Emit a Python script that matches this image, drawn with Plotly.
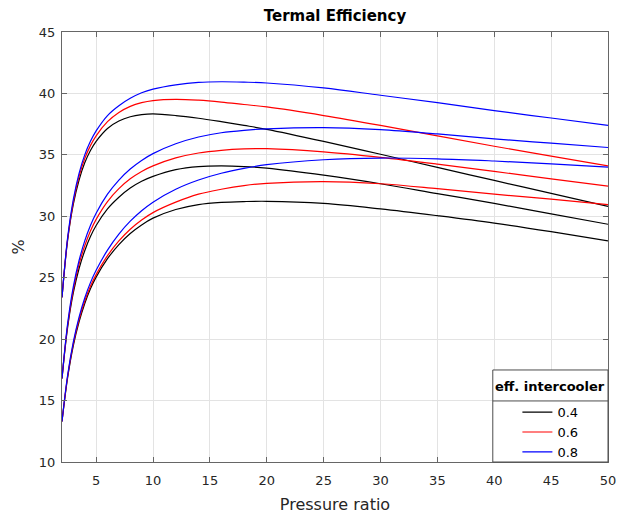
import plotly.graph_objects as go

# Pressure ratio sample points
pr = [2, 2.5, 3, 3.5, 4, 4.5, 5, 6, 7, 8, 9, 10, 12, 14, 16, 18, 20, 25, 30, 35, 40, 45, 50]

# Top group (highest efficiency)
top_black = [23.4, 28.1, 31.0, 32.95, 34.35, 35.35, 36.1, 37.15, 37.75, 38.1, 38.27, 38.33, 38.2, 37.98, 37.7, 37.4, 37.08, 36.1, 35.05, 33.98, 32.92, 31.86, 30.8]
top_red   = [23.4, 28.2, 31.2, 33.25, 34.7, 35.75, 36.55, 37.7, 38.45, 38.95, 39.25, 39.42, 39.52, 39.45, 39.3, 39.1, 38.9, 38.2, 37.4, 36.55, 35.7, 34.9, 34.1]
top_blue  = [23.4, 28.3, 31.4, 33.5, 35.0, 36.1, 36.95, 38.2, 39.0, 39.6, 40.05, 40.35, 40.7, 40.9, 40.95, 40.92, 40.85, 40.45, 39.85, 39.25, 38.6, 38.0, 37.4]

# Middle group
mid_black = [16.8, 21.0, 23.8, 25.75, 27.2, 28.35, 29.25, 30.6, 31.55, 32.3, 32.85, 33.25, 33.8, 34.05, 34.1, 34.05, 33.92, 33.35, 32.65, 31.85, 31.05, 30.2, 29.35]
mid_red   = [16.8, 21.15, 24.05, 26.1, 27.6, 28.8, 29.75, 31.2, 32.25, 33.05, 33.65, 34.1, 34.75, 35.15, 35.37, 35.48, 35.5, 35.25, 34.8, 34.25, 33.65, 33.05, 32.45]
mid_blue  = [16.8, 21.3, 24.3, 26.4, 28.0, 29.25, 30.25, 31.8, 32.95, 33.85, 34.55, 35.1, 35.9, 36.45, 36.8, 37.0, 37.12, 37.22, 37.05, 36.7, 36.3, 35.95, 35.6]

# Bottom group
bot_black = [13.3, 16.9, 19.5, 21.4, 22.9, 24.1, 25.05, 26.55, 27.7, 28.6, 29.3, 29.85, 30.55, 30.95, 31.13, 31.2, 31.22, 31.05, 30.6, 30.05, 29.45, 28.75, 28.0]
bot_red   = [13.3, 17.0, 19.65, 21.6, 23.1, 24.3, 25.25, 26.8, 28.0, 28.95, 29.7, 30.3, 31.15, 31.8, 32.2, 32.5, 32.68, 32.82, 32.65, 32.25, 31.8, 31.4, 30.95]
bot_blue  = [13.3, 17.1, 19.8, 21.8, 23.35, 24.6, 25.6, 27.25, 28.55, 29.6, 30.45, 31.15, 32.2, 32.95, 33.5, 33.9, 34.2, 34.6, 34.74, 34.68, 34.5, 34.27, 34.0]

legend_names = ["0.4", "0.6", "0.8"]
legend_title = "eff. intercooler"
colors = ["#000000", "#ff0000", "#0000ff"]

x_ticks = [5, 10, 15, 20, 25, 30, 35, 40, 45, 50]
y_ticks = [10, 15, 20, 25, 30, 35, 40, 45]

groups = [
    [top_black, top_red, top_blue],
    [mid_black, mid_red, mid_blue],
    [bot_black, bot_red, bot_blue],
]

fig = go.Figure()
for gi, grp in enumerate(groups):
    for ci, ys in enumerate(grp):
        fig.add_trace(go.Scatter(
            x=pr, y=ys, mode="lines",
            line=dict(color=colors[ci], width=1.2, shape="spline", smoothing=1.0),
            name=legend_names[ci],
            showlegend=(gi == 0),
            legendgroup=legend_names[ci],
        ))

font_family = "DejaVu Sans, Arial, sans-serif"
axis_common = dict(
    showline=True, linecolor="#666666", linewidth=1, mirror="ticks",
    ticks="inside", ticklen=5, tickcolor="#666666",
    showgrid=True, gridcolor="#e3e3e3", gridwidth=1,
    zeroline=False, automargin=False,
    tickfont=dict(family=font_family, size=13, color="#262626"),
)

# legend box geometry (paper coords)
lg_left = 0.789
lg_sep_y = 0.142
lg_top = 0.214
lg_title_y = 0.175

fig.update_layout(
    width=617, height=518,
    margin=dict(l=62, r=9, t=32, b=56),
    paper_bgcolor="white", plot_bgcolor="white",
    title=dict(text="<b>Termal Efficiency</b>", x=0.5, xref="paper", xanchor="center",
               y=1, yref="container", yanchor="top", pad=dict(t=10),
               font=dict(family=font_family, size=15, color="#000000")),
    xaxis=dict(range=[2, 50], tickvals=x_ticks, ticklabelstandoff=6,
               title=dict(text="Pressure ratio", standoff=12,
                          font=dict(family=font_family, size=16, color="#262626")),
               **axis_common),
    yaxis=dict(range=[10, 45], tickvals=y_ticks, ticklabelstandoff=3,
               title=dict(text="%", standoff=10,
                          font=dict(family=font_family, size=16, color="#262626")),
               **axis_common),
    legend=dict(
        x=(lg_left + 1) / 2, y=-0.012, xanchor="center", yanchor="bottom",
        bgcolor="rgba(0,0,0,0)", borderwidth=0,
        font=dict(family=font_family, size=13, color="#000000"),
        tracegroupgap=0,
    ),
    shapes=[
        dict(type="rect", xref="paper", yref="paper", x0=lg_left, x1=1, y0=0, y1=lg_top,
             fillcolor="white", line=dict(color="#4d4d4d", width=1), layer="above"),
        dict(type="line", xref="paper", yref="paper", x0=lg_left, x1=1, y0=lg_sep_y, y1=lg_sep_y,
             line=dict(color="#4d4d4d", width=1), layer="above"),
    ],
    annotations=[
        dict(text="<b>" + legend_title + "</b>", xref="paper", yref="paper",
             x=(lg_left + 1) / 2, y=lg_title_y, xanchor="center", yanchor="middle",
             showarrow=False, font=dict(family=font_family, size=13, color="#000000")),
    ],
)

fig.write_html("out.html")
